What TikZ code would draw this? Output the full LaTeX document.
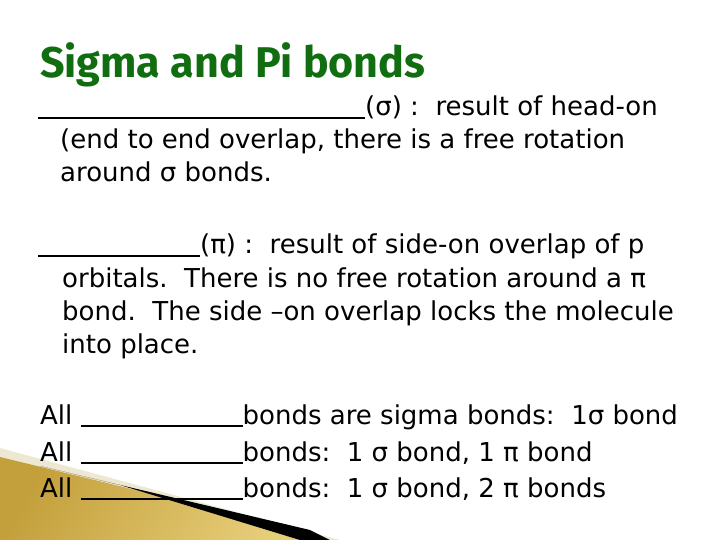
\documentclass[tikz,border=0pt]{standalone}
\usepackage{fontspec}
\setmainfont{DejaVu Sans}
\newfontfamily\titlefont{Fira Sans}
\definecolor{titlegreen}{RGB}{16,110,16}
\definecolor{gold}{RGB}{196,160,60}
\definecolor{goldlight}{RGB}{230,205,120}
\definecolor{cream}{RGB}{238,232,210}
\newcommand{\blank}[1]{\rule[-3pt]{#1pt}{2.2pt}}
\begin{document}
\begin{tikzpicture}[x=1pt,y=-1pt,
  txt/.style={anchor=base west,inner sep=0pt,font=\fontsize{26}{28}\selectfont}]
\useasboundingbox (0,0) rectangle (720,540);
% decoration
\fill[cream] (0,448) -- (340,540) -- (0,540) -- cycle;
\shade[left color=gold,right color=goldlight,shading angle=60] (0,457) -- (300,530) -- (310,540) -- (0,540) -- cycle;
\fill[black] (40,466) -- (310,530) -- (330,540) -- (300,540) -- (120,485) -- cycle;
% title
\node[anchor=base west,inner sep=0pt,text=titlegreen,font=\titlefont\bfseries\fontsize{43}{46}\selectfont] (title) at (40,78) {Sigma and Pi bonds};
% sigma
\node[txt] (s1) at (38,116) {\blank{327}(σ) :\ \ result of head-on};
\node[txt] (s2) at (60,149) {(end to end overlap, there is a free rotation};
\node[txt] (s3) at (60,182) {around σ bonds.};
% pi
\node[txt] (p1) at (38,254) {\blank{162}(π) :\ \ result of side-on overlap of p};
\node[txt] (p2) at (62,287) {orbitals.\ \ There is no free rotation around a π};
\node[txt] (p3) at (62,320) {bond.\ \ The side –on overlap locks the molecule};
\node[txt] (p4) at (62,353) {into place.};
% all
\node[txt] (a1) at (40,424) {All \blank{162}bonds are sigma bonds:\ \ 1σ bond};
\node[txt] (a2) at (40,461) {All \blank{162}bonds:\ \ 1 σ bond, 1 π bond};
\node[txt] (a3) at (40,497) {All \blank{162}bonds:\ \ 1 σ bond, 2 π bonds};
\end{tikzpicture}
\end{document}
